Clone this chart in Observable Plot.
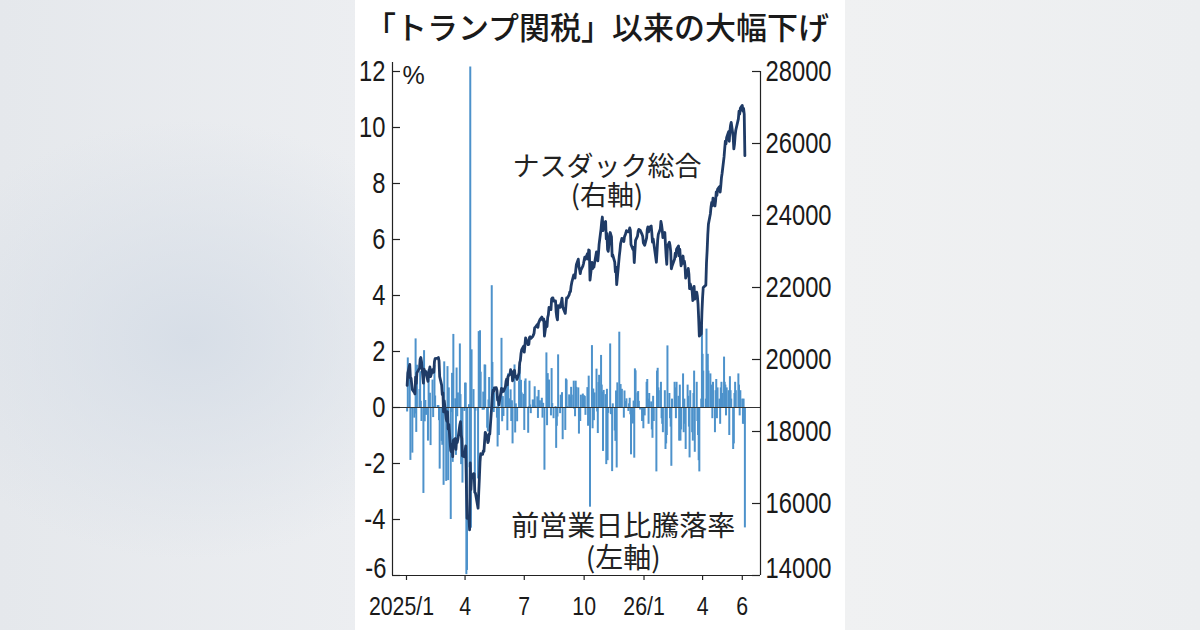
<!DOCTYPE html>
<html><head><meta charset="utf-8">
<script src="https://cdn.jsdelivr.net/npm/d3@7"></script>
<script src="https://cdn.jsdelivr.net/npm/@observablehq/plot@0.6"></script>
<style>
html,body{margin:0;padding:0;}
body{width:1200px;height:630px;overflow:hidden;position:relative;
 background: radial-gradient(ellipse 280px 220px at 190px 340px, #d7dee7 0%, rgba(215,222,231,0) 100%),
             linear-gradient(90deg,#e5e8ec 0%, #eceef1 30%, #f0f1f2 70%, #eceef0 100%);}
#panel{position:absolute;left:355px;top:0;width:490px;height:630px;background:#fff;}
#title{position:absolute;left:-3px;top:0;width:1200px;height:55px;line-height:52px;text-align:center;
 font-family:"Noto Sans CJK JP";font-weight:500;font-size:31px;color:#1a1a1a;white-space:nowrap;z-index:2;}
#chart{position:absolute;left:0;top:45px;z-index:1;}
</style></head>
<body>
<div id="panel"></div>
<div id="title">「トランプ関税」以来の大幅下げ</div>
<div id="chart"></div>
<script>
// Daily change of the Nasdaq Composite (%), one array per month
const pct2025 = [
 [-0.16,1.77,1.24,-1.89,-0.06,-1.63,-0.38,-0.23,2.45,-0.89,1.51,0.64,1.28,0.22,-0.50,-3.07,2.03,-0.51,0.25,-0.28],
 [-1.20,1.35,0.19,0.51,-1.36,0.98,-0.36,0.03,1.50,0.41,0.07,0.07,-0.47,-2.20,-1.21,-1.35,0.26,-2.78,1.63],
 [-2.64,-0.35,1.46,-2.61,0.70,-4.00,-0.18,1.22,-1.96,2.61,0.31,-1.71,1.41,-0.33,0.52,2.27,0.46,-2.04,-0.53,-2.70,-0.14],
 [0.87,0.87,-5.97,-5.82,0.10,-2.15,12.16,-4.31,2.06,0.64,-0.05,-3.07,-0.13,-2.55,2.71,2.50,2.74,1.26,-0.10,0.55,-0.09],
 [1.52,1.51,-0.74,-0.87,0.27,1.07,0.00,4.35,1.61,0.72,-0.18,0.52,0.02,-0.38,-1.41,0.28,-1.00,2.47,-0.51,0.39,-0.32],
 [0.67,0.81,0.32,-0.83,1.20,0.31,0.63,-0.50,0.24,-1.30,1.52,-0.91,0.13,-0.51,0.94,1.43,0.31,0.97,0.52,0.47],
 [-0.82,0.94,1.02,-0.92,0.03,0.94,0.09,-0.22,0.27,0.18,0.26,0.74,0.05,0.38,-0.39,0.61,0.18,0.24,0.33,-0.38,0.15,-0.03],
 [-2.24,1.95,-0.65,1.21,0.35,0.98,-0.30,1.39,0.14,-0.01,-0.40,0.03,-1.46,-0.67,-0.34,1.88,-0.22,0.44,0.21,0.53,-1.15],
 [-0.82,1.02,0.98,0.03,0.45,0.37,0.03,0.72,0.44,0.94,-0.07,-0.33,0.94,0.72,0.70,-0.95,-0.33,-0.50,0.44,0.48,0.31],
 [0.42,0.39,-0.28,0.71,-0.67,1.12,-0.08,-3.56,2.21,-0.76,0.66,-0.47,0.52,1.37,-0.16,-0.93,0.89,1.15,1.86,0.80,0.55,-1.57,0.61],
 [0.46,-2.04,0.65,-1.90,-0.21,2.27,-0.25,-0.26,-2.29,0.13,-0.84,-1.21,0.59,-2.16,0.88,2.69,0.67,0.82,0.65],
 [-0.38,0.59,0.17,0.22,0.31,-0.14,0.13,0.33,-0.26,-1.69,-0.59,0.23,-1.81,1.38,1.31,0.52,0.57,0.22,-0.09,-0.50,-0.24,-0.76]
];
const pct2026 = [
 [-0.3,0.9,1.0,0.3,-0.6,0.5,0.2,-0.8,-1.1,0.4,-0.5,-2.3,1.3,1.4,0.7,0.6,0.9,-0.4,-0.6,-0.9],
 [0.6,-1.5,-1.3,-1.0,2.2,0.5,-0.4,-0.7,-2.1,0.3,0.9,0.7,-0.4,0.9,0.4,-1.2,0.8,-1.2,-0.8],
 [1.2,-0.9,0.3,-0.6,-1.5,0.8,0.4,-0.7,-1.8,0.6,-0.9,-1.2,0.5,1.3,-1.6,0.9,-0.5,-1.0,-1.9,-2.3,0.3,2.9],
 [1.9,1.3,0.3,2.8,1.5,1.9,1.3,1.2,0.8,0.5,-0.4,0.9,-0.9,0.6,1.0,-0.4,0.7,0.3,-0.6,0.7,0.9],
 [0.5,1.8,0.9,0.8,-0.3,0.7,0.6,-1.0,1.1,0.6,0.3,-1.5,-1.3,0.5,0.9,0.6,1.2,0.8,-0.3,0.6],
 [0.3,-0.6,0.3,-0.6,-4.3]
];
// Nasdaq Composite close, one array per month
const close2025 = [
 [19281,19622,19865,19490,19479,19162,19088,19044,19511,19338,19630,19757,20009,20054,19954,19342,19734,19632,19682,19627],
 [19392,19654,19692,19792,19523,19714,19644,19650,19946,20027,20041,20056,19962,19524,19287,19026,19075,18544,18847],
 [18350,18285,18553,18069,18196,17468,17436,17648,17303,17754,17809,17504,17751,17692,17784,18189,18272,17899,17804,17323,17299],
 [17450,17601,16551,15588,15603,15268,17125,16387,16724,16831,16823,16307,16286,15871,16300,16708,17166,17383,17366,17461,17446],
 [17711,17978,17844,17690,17738,17928,17929,18708,19010,19147,19112,19211,19215,19143,18873,18926,18737,19199,19101,19176,19114],
 [19243,19399,19460,19298,19530,19591,19715,19616,19662,19407,19701,19521,19546,19447,19631,19913,19974,20168,20273,20370],
 [20203,20393,20601,20413,20418,20611,20631,20586,20640,20678,20730,20886,20896,20974,20893,21020,21058,21108,21179,21098,21130,21122],
 [20650,21054,20917,21169,21243,21450,21385,21682,21713,21711,21623,21630,21315,21173,21100,21497,21449,21544,21590,21705,21456],
 [21280,21498,21708,21700,21799,21879,21886,22043,22141,22349,22334,22261,22471,22631,22789,22573,22498,22385,22484,22591,22660],
 [22755,22844,22781,22942,22788,23043,23025,22204,22695,22522,22670,22563,22680,22991,22954,22740,22942,23205,23637,23827,23958,23581,23725],
 [23835,23349,23500,23054,23005,23527,23468,23406,22870,22901,22708,22433,22564,22078,22273,22872,23026,23215,23366],
 [23276,23414,23454,23505,23578,23546,23576,23654,23594,23195,23057,23111,22693,23006,23308,23429,23562,23613,23593,23474,23419,23242]
];
const close2026 = [
 [23172,23381,23615,23686,23544,23662,23709,23519,23260,23353,23236,22702,22997,23319,23482,23623,23836,23741,23599,23387],
 [23527,23174,22873,22644,23142,23258,23165,23003,22520,22588,22791,22951,22859,23065,23157,22879,23062,22785,22603],
 [22874,22668,22736,22600,22261,22439,22529,22371,21968,22100,21901,21638,21746,22029,21677,21872,21763,21545,21136,20650,20712,21313],
 [21718,22000,22066,22684,23024,23461,23766,24051,24243,24364,24267,24485,24265,24411,24655,24556,24728,24802,24653,24826,25049],
 [25174,25627,25858,26065,25987,26169,26326,26063,26350,26508,26588,26189,25849,25978,26212,26369,26685,26898,26817,26978],
 [27059,26897,26978,26816,25663]
];
const marketHolidays = ["2025-01-01","2025-01-09","2025-01-20","2025-02-17","2025-04-18","2025-05-26","2025-06-19",
 "2025-07-04","2025-09-01","2025-11-27","2025-12-25","2026-01-01","2026-01-19","2026-02-16","2026-04-03","2026-05-25"];
const leftTicks = [-6,-4,-2,0,2,4,6,8,10,12];
const rightTicks = [14000,16000,18000,20000,22000,24000,26000,28000];
const xTickDates = ["2025-01-01","2025-04-01","2025-07-01","2025-10-01","2026-01-01","2026-04-01","2026-06-01"];
const xTickLabels = ["2025/1","4","7","10","26/1","4","6"];

function tradingDays(year, month) {
  const out = [];
  const d = new Date(Date.UTC(year, month - 1, 1));
  while (d.getUTCMonth() === month - 1) {
    const wd = d.getUTCDay();
    const iso = d.toISOString().slice(0, 10);
    if (wd !== 0 && wd !== 6 && !marketHolidays.includes(iso)) out.push(new Date(d));
    d.setUTCDate(d.getUTCDate() + 1);
  }
  return out;
}
const rows = [];
[[2025, pct2025, close2025], [2026, pct2026, close2026]].forEach(([yr, P, C]) => {
  P.forEach((vals, m) => {
    const days = tradingDays(yr, m + 1);
    vals.forEach((p, i) => rows.push({date: days[i], pct: p, close: C[m][i]}));
  });
});

// right axis (index) mapped onto the left (%) scale
const toPct = v => -6 + (v - 14000) * 18 / 14000;
const fromPct = p => 14000 + (p + 6) * 14000 / 18;

const numFont = "'Liberation Sans',Arial,sans-serif";
const jpFont = "'Noto Sans CJK JP',sans-serif";
const xDomain = [new Date(Date.UTC(2024, 11, 10, 12)), new Date(Date.UTC(2026, 5, 29))];
const ticksX = xTickDates.map(s => new Date(s + "T00:00:00Z"));
const xLab = ticksX.map((d, i) => ({date: d, label: xTickLabels[i]}));
const rightPct = rightTicks.map(toPct);
const axisColor = "#222";
const yLabelOpts = {tickSize: 0, label: null, fontSize: 29, fontFamily: numFont};
const fmtRight = p => String(Math.round(fromPct(p)));

const chart = Plot.plot({
  width: 1200, height: 585,
  marginLeft: 392, marginRight: 440, marginTop: 26, marginBottom: 55,
  style: {background: "transparent", color: "#1a1a1a", fontFamily: numFont},
  x: {type: "utc", domain: xDomain},
  y: {domain: [-6, 12]},
  marks: [
    Plot.ruleX(rows, {x: "date", y1: 0, y2: "pct", stroke: "#4d92cb", strokeWidth: 2.0}),
    Plot.ruleY([0], {stroke: "#333", strokeWidth: 1}),
    Plot.line(rows, {x: "date", y: d => toPct(d.close), stroke: "#1f3b66", strokeWidth: 2.8, strokeLinejoin: "round"}),
    // frame
    Plot.ruleX([xDomain[0]], {y1: -6, y2: 12.32, stroke: axisColor, strokeWidth: 1.2}),
    Plot.ruleX([xDomain[1]], {y1: -6, y2: 12.0, stroke: axisColor, strokeWidth: 1.2}),
    Plot.ruleY([-6], {x1: xDomain[0], x2: xDomain[1], stroke: axisColor, strokeWidth: 1.2}),
    // left axis
    Plot.tickY(leftTicks, {y: d => d, insetRight: 360, stroke: axisColor, strokeWidth: 1.2}),
    Plot.axisY(leftTicks.filter(d => d !== -6), {...yLabelOpts, anchor: "left", tickPadding: 7, tickFormat: d => String(d)}),
    Plot.axisY([-6], {...yLabelOpts, anchor: "left", tickPadding: 6, tickFormat: d => String(d), dy: -7}),
    Plot.text(["%"], {frameAnchor: "top-left", lineAnchor: "middle", dx: 10, dy: 4, textAnchor: "start", fontSize: 25, fontFamily: numFont}),
    // right axis
    Plot.tickY(rightPct, {y: d => d, insetLeft: 360, stroke: axisColor, strokeWidth: 1.2}),
    Plot.axisY(rightPct.slice(1), {...yLabelOpts, anchor: "right", tickPadding: 5, tickFormat: fmtRight}),
    Plot.axisY(rightPct.slice(0, 1), {...yLabelOpts, anchor: "right", tickPadding: 5, tickFormat: fmtRight, dy: -7}),
    // x axis
    Plot.axisX(ticksX, {anchor: "bottom", tickSize: 5, tickFormat: () => "", label: null, stroke: axisColor, strokeWidth: 1.2}),
    Plot.text(xLab.slice(0, 1), {x: "date", text: "label", frameAnchor: "bottom", lineAnchor: "middle", dy: 31, dx: -5, fontSize: 26, fontFamily: numFont}),
    Plot.text(xLab.slice(1), {x: "date", text: "label", frameAnchor: "bottom", lineAnchor: "middle", dy: 31, fontSize: 26, fontFamily: numFont}),
    // annotations (two-line labels)
    Plot.text(["ナスダック総合\n(右軸)"], {x: () => new Date(Date.UTC(2025, 10, 5)), y: () => 8.07,
      lineAnchor: "middle", lineHeight: 1.04, fontSize: 27, fontFamily: jpFont, fill: "#222"}),
    Plot.text(["前営業日比騰落率\n(左軸)"], {x: () => new Date(Date.UTC(2025, 10, 30)), y: () => -4.79,
      lineAnchor: "middle", lineHeight: 1.14, fontSize: 28, fontFamily: jpFont, fill: "#222"})
  ]
});
document.getElementById("chart").append(chart);

// condense the numeric labels (narrow newspaper figures)
d3.select(chart).selectAll("text").each(function () {
  const t = this.textContent;
  if (!/^[-\d\/]+$/.test(t)) return;
  const tr = this.getAttribute("transform");
  if (tr) {
    this.setAttribute("transform", tr + " scale(0.82,1)");
  } else {
    const x = +(this.getAttribute("x") || 0), y = +(this.getAttribute("y") || 0);
    this.setAttribute("x", 0); this.setAttribute("y", 0);
    this.setAttribute("transform", `translate(${x},${y}) scale(0.82,1)`);
  }
});
</script>
</body></html>
